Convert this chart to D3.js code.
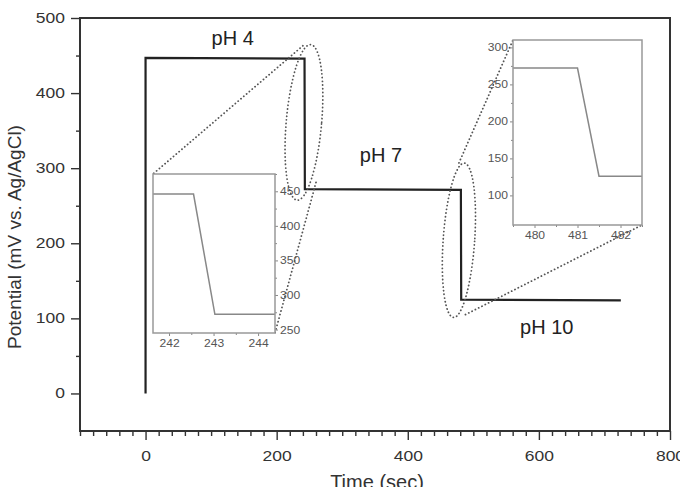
<!DOCTYPE html>
<html lang="en">
<head>
<meta charset="UTF-8" />
<title>Potential vs time</title>
<script src="https://cdn.jsdelivr.net/npm/d3@7"></script>
<style>
  body { margin: 0; background: #fff; }
  text { font-family: "Liberation Sans", Arial, sans-serif; }
</style>
</head>
<body>
<div id="chart"></div>
<script>
// main trace
const timeSec = [0, 0, 242.5, 243, 481, 481.5, 725];
const potential = [0, 447, 446, 272, 271, 125, 124];

// zoomed traces
const inset1Time = [241.64, 242.55, 243.03, 244.38];
const inset1Pot = [446, 446, 272, 272];
const inset2Time = [479.5, 481.0, 481.5, 482.5];
const inset2Pot = [272, 272, 126, 126];

// tick labels
const xTicks = [0, 200, 400, 600, 800];
const yTicks = [0, 100, 200, 300, 400, 500];
const in1XTicks = [242, 243, 244];
const in1YTicks = [250, 300, 350, 400, 450];
const in2XTicks = [480, 481, 482];
const in2YTicks = [100, 150, 200, 250, 300];

// annotations (main data coords)
const phLabels = ["pH 4", "pH 7", "pH 10"];
const phTime = [133, 359, 612];
const phPot = [464, 308, 79];
const ellipseTime = [241.6, 478];
const ellipsePot = [361, 204];

const w = 680, h = 487;
const svg = d3.select("#chart").append("svg").attr("width", w).attr("height", h);

const x = d3.scaleLinear([-100, 800], [80, 670]);
const y = d3.scaleLinear([-50, 500], [431, 18]);

// widen text like the source picture
function widen(sel, k) {
  sel.each(function () {
    const t = d3.select(this);
    const tx = +t.attr("x") || 0;
    t.attr("x", 0).attr("transform", `translate(${tx},0) scale(${k},1)`);
  });
}

// minor ticks
svg.append("g")
  .attr("transform", "translate(0,431)")
  .call(d3.axisBottom(x).tickValues(d3.range(-100, 801, 20).filter(v => v % 200 != 0)).tickSize(5).tickFormat(""))
  .call(g => g.select(".domain").remove())
  .selectAll("line").attr("stroke", "#333").attr("stroke-width", 1.4);
svg.append("g")
  .attr("transform", "translate(80,0)")
  .call(d3.axisLeft(y).tickValues([50, 150, 250, 350, 450]).tickSize(4).tickFormat(""))
  .call(g => g.select(".domain").remove())
  .selectAll("line").attr("stroke", "#333").attr("stroke-width", 1.4);

const xAxis = svg.append("g")
  .attr("transform", "translate(0,431)")
  .call(d3.axisBottom(x).tickValues(xTicks).tickSize(9).tickPadding(11));
const yAxis = svg.append("g")
  .attr("transform", "translate(80,0)")
  .call(d3.axisLeft(y).tickValues(yTicks).tickSize(9).tickPadding(6));

[xAxis, yAxis].forEach(a => {
  a.select(".domain").remove();
  a.selectAll("line").attr("stroke", "#333").attr("stroke-width", 1.4);
  a.selectAll("text").attr("font-size", 14).attr("fill", "#333")
    .style("font-family", "'Liberation Sans', Arial, sans-serif");
});
widen(xAxis.selectAll("text"), 1.25);
widen(yAxis.selectAll("text"), 1.25);

// frame
svg.append("rect")
  .attr("x", x(-100)).attr("y", y(500))
  .attr("width", x(800) - x(-100)).attr("height", y(-50) - y(500))
  .attr("fill", "none").attr("stroke", "#333").attr("stroke-width", 2);

// axis titles
svg.append("text")
  .attr("transform", "translate(21,237) rotate(-90)")
  .attr("text-anchor", "middle").attr("font-size", 19).attr("fill", "#333")
  .text("Potential (mV vs. Ag/AgCl)");
svg.append("text")
  .attr("x", 377).attr("y", 489)
  .attr("text-anchor", "middle").attr("font-size", 20).attr("fill", "#333")
  .text("Time (sec)");

// main trace
const line = d3.line().x(d => x(d[0])).y(d => y(d[1]));
svg.append("path")
  .datum(d3.zip(timeSec, potential))
  .attr("d", line)
  .attr("fill", "none").attr("stroke", "#222").attr("stroke-width", 2.2);

// pH labels
svg.selectAll(".ph")
  .data(phLabels)
  .enter()
  .append("text")
  .attr("x", (d, i) => x(phTime[i]))
  .attr("y", (d, i) => y(phPot[i]))
  .attr("text-anchor", "middle").attr("font-size", 20).attr("fill", "#222")
  .text(d => d);

// dotted ellipses
const dotted = g => g.attr("fill", "none").attr("stroke", "#555").attr("stroke-width", 1.8)
  .attr("stroke-dasharray", "0.1 3.6").attr("stroke-linecap", "round");
const ellHalfT = [27, 24], ellHalfP = [104, 103], ellTilt = [5, 4];
svg.selectAll(".ell")
  .data(ellipseTime)
  .enter()
  .append("ellipse")
  .attr("transform", (d, i) => `translate(${x(d)},${y(ellipsePot[i])}) rotate(${ellTilt[i]})`)
  .attr("rx", (d, i) => x(ellHalfT[i]) - x(0))
  .attr("ry", (d, i) => y(0) - y(ellHalfP[i]))
  .call(dotted);

// inset boxes (pixel layout)
const in1 = { x0: 153, x1: 275, y0: 174, y1: 333 };
const in2 = { x0: 513, x1: 642, y0: 40, y1: 225 };
const x1s = d3.scaleLinear([241.64, 244.38], [in1.x0, in1.x1]);
const y1s = d3.scaleLinear([245, 475], [in1.y1, in1.y0]);
const x2s = d3.scaleLinear([479.5, 482.5], [in2.x0, in2.x1]);
const y2s = d3.scaleLinear([60, 310], [in2.y1, in2.y0]);

// connector lines
const conn = [
  [x(240), y(463), in1.x0, in1.y0],
  [x(260), y(281), in1.x1, in1.y1],
  [x(478), y(307), in2.x0, in2.y0],
  [x(488), y(105), in2.x1, in2.y1]
];
svg.selectAll(".conn")
  .data(conn)
  .enter()
  .append("line")
  .attr("x1", d => d[0]).attr("y1", d => d[1])
  .attr("x2", d => d[2]).attr("y2", d => d[3])
  .call(dotted);

function drawInset(box, xs, ys, tx, tp, xt, yt, yRight) {
  const g = svg.append("g");
  g.append("rect")
    .attr("x", box.x0).attr("y", box.y0)
    .attr("width", box.x1 - box.x0).attr("height", box.y1 - box.y0)
    .attr("fill", "#fff");
  const xMinor = xt.map(v => v - 0.5).concat([xt[xt.length - 1] + 0.5]);
  const yMinor = yt.map(v => v + 25);
  const gx = g.append("g").attr("transform", `translate(0,${box.y1})`)
    .call(d3.axisBottom(xs).tickValues(xt).tickFormat(d3.format("d")).tickSize(3).tickPadding(3));
  g.append("g").attr("transform", `translate(0,${box.y1})`)
    .call(d3.axisBottom(xs).tickValues(xMinor.filter(v => v >= xs.domain()[0] && v <= xs.domain()[1])).tickSize(2).tickFormat(""));
  const ax = yRight ? d3.axisRight : d3.axisLeft;
  const gy = g.append("g").attr("transform", `translate(${yRight ? box.x1 : box.x0},0)`)
    .call(ax(ys).tickValues(yt).tickFormat(d3.format("d")).tickSize(3).tickPadding(2));
  g.append("g").attr("transform", `translate(${yRight ? box.x1 : box.x0},0)`)
    .call(ax(ys).tickValues(yMinor.filter(v => v <= ys.domain()[1])).tickSize(2).tickFormat(""));
  g.selectAll(".domain").remove();
  g.selectAll("line").attr("stroke", "#888").attr("stroke-width", 1);
  g.selectAll("text").attr("font-size", 11).attr("fill", "#555")
    .style("font-family", "'Liberation Sans', Arial, sans-serif");
  widen(gx.selectAll("text"), 1.1);
  widen(gy.selectAll("text"), 1.1);
  g.append("path")
    .datum(d3.zip(tx, tp))
    .attr("d", d3.line().x(d => xs(d[0])).y(d => ys(d[1])))
    .attr("fill", "none").attr("stroke", "#888").attr("stroke-width", 1.5);
  g.append("rect")
    .attr("x", box.x0).attr("y", box.y0)
    .attr("width", box.x1 - box.x0).attr("height", box.y1 - box.y0)
    .attr("fill", "none").attr("stroke", "#999").attr("stroke-width", 1.5);
}
drawInset(in1, x1s, y1s, inset1Time, inset1Pot, in1XTicks, in1YTicks, true);
drawInset(in2, x2s, y2s, inset2Time, inset2Pot, in2XTicks, in2YTicks, false);
</script>
</body>
</html>
